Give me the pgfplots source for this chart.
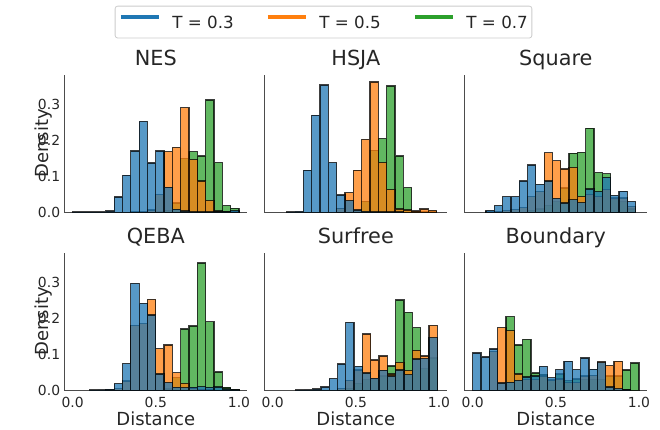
\documentclass[border=0pt]{standalone}
\usepackage{fontspec}
\setmainfont{DejaVu Sans}
\usepackage{pgfplots}
\pgfplotsset{compat=1.18}

\definecolor{cblue}{RGB}{31,119,180}
\definecolor{corange}{RGB}{255,127,14}
\definecolor{cgreen}{RGB}{44,160,44}
\definecolor{txt}{RGB}{38,38,38}
\definecolor{legbd}{RGB}{204,204,204}

\pgfplotsset{
  panel/.style={
    scale only axis, width=183pt, height=137.5pt,
    xmin=-0.05, xmax=1.05, ymin=0, ymax=0.38,
    axis x line*=bottom, axis y line*=left,
    axis line style={draw=black!70, line width=1pt},
    major tick length=0pt,
    xtick={0,0.5,1}, xticklabels={0.0,0.5,1.0},
    ytick={0,0.1,0.2,0.3}, yticklabels={0.0,0.1,0.2,0.3},
    tick label style={font=\fontsize{13.9}{16}\selectfont, text=txt},
    xticklabel style={anchor=base, inner sep=0pt, yshift=-16.7pt},
    yticklabel style={anchor=east, inner sep=0pt, xshift=-4pt},
    title style={at={(axis description cs:0.5,1.029)}, anchor=base, inner sep=0pt,
      yshift=0pt, font=\fontsize{20.8}{24}\selectfont, text=txt},
    xlabel style={at={(axis description cs:0.5,-0.2545)}, anchor=base, inner sep=0pt,
      font=\fontsize{18}{21}\selectfont, text=txt},
  },
  notx/.style={xticklabels={}},
  noty/.style={yticklabels={}},
  hb/.style={ybar interval, draw=black, fill=#1, fill opacity=0.75,
    draw opacity=0.75, line width=1.3pt, forget plot},
}
\tikzset{ylab/.style={rotate=90, anchor=base, inner sep=0pt,
    font=\fontsize{18}{21}\selectfont, text=txt}}

\begin{document}
\begin{tikzpicture}
\useasboundingbox (0,0) rectangle (660pt,429pt);

% NES
\begin{axis}[panel, notx, at={(64.3pt,216.5pt)}, title={NES},
  legend columns=3,
  legend image code/.code={\draw[#1] (0pt,6pt) -- (38pt,6pt);},
  legend style={at={(1.4164,1.385)}, anchor=center, draw=legbd, line width=0.8pt,
    rounded corners=2.5pt, fill=white, font=\fontsize{16.7}{20}\selectfont, text=txt,
    inner xsep=4pt, inner ysep=9pt,
    nodes={inner sep=0pt, text height=12.2pt, text depth=0pt},
    /tikz/every odd column/.append style={column sep=11.7pt},
    /tikz/every even column/.append style={column sep=32.5pt}}]
\addlegendimage{line width=3.5pt, draw=cblue}
\addlegendentry{T = 0.3}
\addlegendimage{line width=3.5pt, draw=corange}
\addlegendentry{T = 0.5}
\addlegendimage{line width=3.5pt, draw=cgreen}
\addlegendentry{T = 0.7}
\addplot[hb=cgreen] coordinates {(0.50,0.002)(0.55,0.005)(0.60,0.026)(0.65,0.149)(0.70,0.168)(0.75,0.156)(0.80,0.311)(0.85,0.138)(0.90,0.019)(0.95,0.012)(1.00,0)};
\addplot[hb=corange] coordinates {(0.35,0.001)(0.40,0.002)(0.45,0.007)(0.50,0.049)(0.55,0.168)(0.60,0.180)(0.65,0.290)(0.70,0.146)(0.75,0.087)(0.80,0.033)(0.85,0.004)(0.90,0.002)(0.95,0.001)(1.00,0)};
\addplot[hb=cblue] coordinates {(0.00,0.001)(0.05,0.001)(0.10,0.001)(0.15,0.001)(0.20,0.004)(0.25,0.043)(0.30,0.103)(0.35,0.170)(0.40,0.252)(0.45,0.137)(0.50,0.170)(0.55,0.070)(0.60,0.009)(0.65,0.004)(0.70,0.002)(0.75,0.002)(0.80,0.002)(0.85,0.002)(0.90,0.002)(0.95,0.005)(1.00,0)};
\end{axis}

% HSJA
\begin{axis}[panel, notx, noty, at={(264.3pt,216.5pt)}, title={HSJA}]
\addplot[hb=cgreen] coordinates {(0.485,0.002)(0.535,0.031)(0.585,0.172)(0.635,0.204)(0.685,0.350)(0.735,0.156)(0.785,0.069)(0.835,0.003)(0.885,0.002)(0.935,0.001)(0.985,0)};
\addplot[hb=corange] coordinates {(0.385,0.012)(0.435,0.055)(0.485,0.117)(0.535,0.202)(0.585,0.361)(0.635,0.138)(0.685,0.063)(0.735,0.010)(0.785,0.007)(0.835,0.004)(0.885,0.010)(0.935,0.006)(0.985,0)};
\addplot[hb=cblue] coordinates {(0.085,0.001)(0.135,0.003)(0.185,0.117)(0.235,0.269)(0.285,0.352)(0.335,0.138)(0.385,0.048)(0.435,0.033)(0.485,0.007)(0.535,0.003)(0.585,0.002)(0.635,0.001)(0.685,0.001)(0.735,0.001)(0.785,0)};
\end{axis}

% Square
\begin{axis}[panel, notx, noty, at={(464.3pt,216.5pt)}, title={Square}]
\addplot[hb=cgreen] coordinates {(0.33,0.005)(0.38,0.010)(0.43,0.020)(0.48,0.030)(0.53,0.068)(0.58,0.164)(0.63,0.166)(0.68,0.233)(0.73,0.110)(0.78,0.107)(0.83,0.035)(0.88,0.030)(0.93,0.010)(0.98,0)};
\addplot[hb=corange] coordinates {(0.08,0.002)(0.13,0.003)(0.18,0.005)(0.23,0.008)(0.28,0.013)(0.33,0.044)(0.38,0.058)(0.43,0.165)(0.48,0.143)(0.53,0.120)(0.58,0.125)(0.63,0.044)(0.68,0.050)(0.73,0.045)(0.78,0.064)(0.83,0.040)(0.88,0.040)(0.93,0.017)(0.98,0)};
\addplot[hb=cblue] coordinates {(0.08,0.006)(0.13,0.019)(0.18,0.044)(0.23,0.044)(0.28,0.087)(0.33,0.131)(0.38,0.078)(0.43,0.087)(0.48,0.039)(0.53,0.026)(0.58,0.035)(0.63,0.027)(0.68,0.065)(0.73,0.058)(0.78,0.097)(0.83,0.047)(0.88,0.059)(0.93,0.030)(0.98,0)};
\end{axis}

% QEBA
\begin{axis}[panel, at={(64.3pt,38.5pt)}, title={QEBA}, xlabel={Distance}]
\addplot[hb=cgreen] coordinates {(0.55,0.004)(0.60,0.035)(0.65,0.170)(0.70,0.178)(0.75,0.352)(0.80,0.190)(0.85,0.051)(0.90,0.009)(0.95,0.003)(1.00,0)};
\addplot[hb=corange] coordinates {(0.20,0.001)(0.25,0.005)(0.30,0.026)(0.35,0.180)(0.40,0.185)(0.45,0.252)(0.50,0.116)(0.55,0.126)(0.60,0.049)(0.65,0.020)(0.70,0.006)(0.75,0.003)(0.80,0.002)(0.85,0)};
\addplot[hb=cblue] coordinates {(0.10,0.001)(0.15,0.002)(0.20,0.003)(0.25,0.019)(0.30,0.074)(0.35,0.296)(0.40,0.241)(0.45,0.209)(0.50,0.046)(0.55,0.022)(0.60,0.009)(0.65,0.008)(0.70,0.009)(0.75,0.011)(0.80,0.009)(0.85,0.010)(0.90,0.004)(0.95,0.002)(1.00,0)};
\end{axis}

% Surfree
\begin{axis}[panel, noty, at={(264.3pt,38.5pt)}, title={Surfree}, xlabel={Distance}]
\addplot[hb=cgreen] coordinates {(0.44,0.005)(0.49,0.020)(0.54,0.030)(0.59,0.030)(0.64,0.040)(0.69,0.068)(0.74,0.250)(0.79,0.216)(0.84,0.174)(0.89,0.060)(0.94,0.090)(0.99,0)};
\addplot[hb=corange] coordinates {(0.39,0.005)(0.44,0.028)(0.49,0.057)(0.54,0.156)(0.59,0.084)(0.64,0.095)(0.69,0.046)(0.74,0.078)(0.79,0.055)(0.84,0.111)(0.89,0.095)(0.94,0.180)(0.99,0)};
\addplot[hb=cblue] coordinates {(0.14,0.001)(0.19,0.002)(0.24,0.004)(0.29,0.010)(0.34,0.033)(0.39,0.073)(0.44,0.188)(0.49,0.067)(0.54,0.048)(0.59,0.034)(0.64,0.056)(0.69,0.040)(0.74,0.057)(0.79,0.044)(0.84,0.087)(0.89,0.088)(0.94,0.146)(0.99,0)};
\end{axis}

% Boundary
\begin{axis}[panel, noty, at={(464.3pt,38.5pt)}, title={Boundary}, xlabel={Distance}]
\addplot[hb=cgreen] coordinates {(0.20,0.204)(0.25,0.126)(0.30,0.141)(0.35,0.048)(0.40,0.045)(0.45,0.030)(0.50,0.046)(0.55,0.028)(0.60,0.032)(0.65,0.030)(0.70,0.030)(0.75,0.030)(0.80,0.040)(0.85,0.040)(0.90,0.057)(0.95,0.076)(1.00,0)};
\addplot[hb=corange] coordinates {(0.10,0.108)(0.15,0.174)(0.20,0.165)(0.25,0.046)(0.30,0.030)(0.35,0.030)(0.40,0.040)(0.45,0.028)(0.50,0.032)(0.55,0.022)(0.60,0.022)(0.65,0.040)(0.70,0.042)(0.75,0.080)(0.80,0.069)(0.85,0.081)(0.90,0.002)(0.95,0)};
\addplot[hb=cblue] coordinates {(0.00,0.104)(0.05,0.093)(0.10,0.115)(0.15,0.021)(0.20,0.023)(0.25,0.028)(0.30,0.037)(0.35,0.040)(0.40,0.067)(0.45,0.035)(0.50,0.058)(0.55,0.081)(0.60,0.058)(0.65,0.090)(0.70,0.059)(0.75,0.078)(0.80,0.010)(0.85,0.005)(0.90,0.002)(0.95,0)};
\end{axis}

% y labels
\node[ylab] at (48.5pt,285.5pt) {Density};
\node[ylab] at (48.5pt,107.5pt) {Density};
\end{tikzpicture}
\end{document}
